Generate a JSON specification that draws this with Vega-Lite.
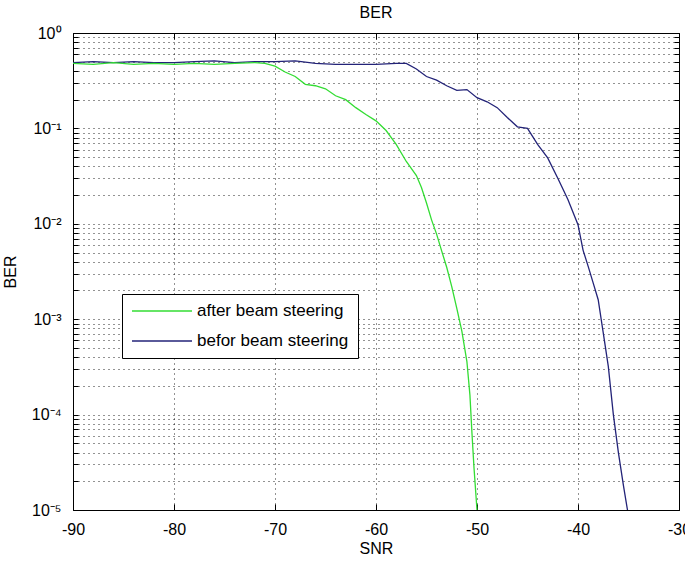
{
  "$schema": "https://vega.github.io/schema/vega-lite/v6.json",
  "width": 606,
  "height": 477,
  "autosize": {"type": "none"},
  "padding": {"left": 73, "top": 33, "right": 6, "bottom": 53},
  "background": "white",
  "config": {
    "font": "Liberation Sans",
    "view": {"stroke": "black", "strokeWidth": 1},
    "axis": {"labelFont": "Liberation Sans", "titleFont": "Liberation Sans", "labelColor": "black", "titleColor": "black", "titleFontWeight": "normal", "labelFontSize": 16, "titleFontSize": 16}
  },
  "title": {"text": "BER", "fontSize": 16, "fontWeight": "normal", "font": "Liberation Sans", "color": "black", "offset": 4},
  "data": {"values": [
    {"snr": -90, "ber": 0.49, "series": "befor beam steering"},
    {"snr": -88, "ber": 0.50, "series": "befor beam steering"},
    {"snr": -86, "ber": 0.49, "series": "befor beam steering"},
    {"snr": -84, "ber": 0.50, "series": "befor beam steering"},
    {"snr": -82, "ber": 0.49, "series": "befor beam steering"},
    {"snr": -80, "ber": 0.49, "series": "befor beam steering"},
    {"snr": -78, "ber": 0.50, "series": "befor beam steering"},
    {"snr": -76, "ber": 0.51, "series": "befor beam steering"},
    {"snr": -74, "ber": 0.49, "series": "befor beam steering"},
    {"snr": -72, "ber": 0.50, "series": "befor beam steering"},
    {"snr": -70, "ber": 0.50, "series": "befor beam steering"},
    {"snr": -68, "ber": 0.51, "series": "befor beam steering"},
    {"snr": -66, "ber": 0.48, "series": "befor beam steering"},
    {"snr": -64, "ber": 0.47, "series": "befor beam steering"},
    {"snr": -62, "ber": 0.47, "series": "befor beam steering"},
    {"snr": -60, "ber": 0.47, "series": "befor beam steering"},
    {"snr": -58, "ber": 0.48, "series": "befor beam steering"},
    {"snr": -57, "ber": 0.48, "series": "befor beam steering"},
    {"snr": -56, "ber": 0.42, "series": "befor beam steering"},
    {"snr": -55, "ber": 0.35, "series": "befor beam steering"},
    {"snr": -54, "ber": 0.32, "series": "befor beam steering"},
    {"snr": -53, "ber": 0.28, "series": "befor beam steering"},
    {"snr": -52, "ber": 0.25, "series": "befor beam steering"},
    {"snr": -51, "ber": 0.255, "series": "befor beam steering"},
    {"snr": -50, "ber": 0.21, "series": "befor beam steering"},
    {"snr": -49, "ber": 0.19, "series": "befor beam steering"},
    {"snr": -48, "ber": 0.165, "series": "befor beam steering"},
    {"snr": -47, "ber": 0.13, "series": "befor beam steering"},
    {"snr": -46, "ber": 0.104, "series": "befor beam steering"},
    {"snr": -45, "ber": 0.10, "series": "befor beam steering"},
    {"snr": -44, "ber": 0.068, "series": "befor beam steering"},
    {"snr": -43, "ber": 0.049, "series": "befor beam steering"},
    {"snr": -42, "ber": 0.030, "series": "befor beam steering"},
    {"snr": -41, "ber": 0.018, "series": "befor beam steering"},
    {"snr": -40, "ber": 0.0098, "series": "befor beam steering"},
    {"snr": -39.5, "ber": 0.0053, "series": "befor beam steering"},
    {"snr": -39, "ber": 0.0036, "series": "befor beam steering"},
    {"snr": -38.5, "ber": 0.0024, "series": "befor beam steering"},
    {"snr": -38, "ber": 0.0016, "series": "befor beam steering"},
    {"snr": -37.5, "ber": 0.00072, "series": "befor beam steering"},
    {"snr": -37, "ber": 0.00032, "series": "befor beam steering"},
    {"snr": -36.5, "ber": 0.0001, "series": "befor beam steering"},
    {"snr": -36, "ber": 0.00004, "series": "befor beam steering"},
    {"snr": -35.5, "ber": 0.000018, "series": "befor beam steering"},
    {"snr": -35.1, "ber": 0.00001, "series": "befor beam steering"},
    {"snr": -90, "ber": 0.48, "series": "after beam steering"},
    {"snr": -88, "ber": 0.47, "series": "after beam steering"},
    {"snr": -86, "ber": 0.49, "series": "after beam steering"},
    {"snr": -84, "ber": 0.47, "series": "after beam steering"},
    {"snr": -82, "ber": 0.48, "series": "after beam steering"},
    {"snr": -80, "ber": 0.47, "series": "after beam steering"},
    {"snr": -78, "ber": 0.48, "series": "after beam steering"},
    {"snr": -76, "ber": 0.47, "series": "after beam steering"},
    {"snr": -74, "ber": 0.48, "series": "after beam steering"},
    {"snr": -72, "ber": 0.49, "series": "after beam steering"},
    {"snr": -71, "ber": 0.48, "series": "after beam steering"},
    {"snr": -70, "ber": 0.45, "series": "after beam steering"},
    {"snr": -69, "ber": 0.39, "series": "after beam steering"},
    {"snr": -68, "ber": 0.35, "series": "after beam steering"},
    {"snr": -67, "ber": 0.29, "series": "after beam steering"},
    {"snr": -66, "ber": 0.28, "series": "after beam steering"},
    {"snr": -65, "ber": 0.26, "series": "after beam steering"},
    {"snr": -64, "ber": 0.22, "series": "after beam steering"},
    {"snr": -63, "ber": 0.20, "series": "after beam steering"},
    {"snr": -62, "ber": 0.165, "series": "after beam steering"},
    {"snr": -61, "ber": 0.14, "series": "after beam steering"},
    {"snr": -60, "ber": 0.12, "series": "after beam steering"},
    {"snr": -59, "ber": 0.095, "series": "after beam steering"},
    {"snr": -58, "ber": 0.068, "series": "after beam steering"},
    {"snr": -57, "ber": 0.045, "series": "after beam steering"},
    {"snr": -56, "ber": 0.032, "series": "after beam steering"},
    {"snr": -55.5, "ber": 0.024, "series": "after beam steering"},
    {"snr": -55, "ber": 0.0165, "series": "after beam steering"},
    {"snr": -54.5, "ber": 0.011, "series": "after beam steering"},
    {"snr": -54, "ber": 0.0078, "series": "after beam steering"},
    {"snr": -53.5, "ber": 0.0052, "series": "after beam steering"},
    {"snr": -53, "ber": 0.0035, "series": "after beam steering"},
    {"snr": -52.5, "ber": 0.0022, "series": "after beam steering"},
    {"snr": -52, "ber": 0.0013, "series": "after beam steering"},
    {"snr": -51.5, "ber": 0.00075, "series": "after beam steering"},
    {"snr": -51, "ber": 0.00036, "series": "after beam steering"},
    {"snr": -50.7, "ber": 0.00016, "series": "after beam steering"},
    {"snr": -50.5, "ber": 0.000064, "series": "after beam steering"},
    {"snr": -50.3, "ber": 0.000028, "series": "after beam steering"},
    {"snr": -50, "ber": 0.00001, "series": "after beam steering"}
  ]},
  "layer": [
    {
      "mark": {"type": "line", "strokeWidth": 1.3, "clip": true},
      "encoding": {
        "x": {
          "field": "snr", "type": "quantitative",
          "scale": {"domain": [-90, -30], "nice": false, "zero": false},
          "axis": {
            "orient": "bottom", "title": "SNR", "values": [-90, -80, -70, -60, -50, -40, -30],
            "labelExpr": "'' + datum.value",
            "domain": false, "grid": true, "gridColor": "black", "gridDash": [1, 4], "gridOpacity": 0.85,
            "tickSize": -6, "tickColor": "black", "labelPadding": 17, "labelFlush": false,
            "titlePadding": 3
          }
        },
        "y": {
          "field": "ber", "type": "quantitative",
          "scale": {"type": "log", "domain": [0.00001, 1], "nice": false},
          "axis": {
            "orient": "left", "title": "BER",
            "values": [0.00001, 0.00002, 0.00003, 0.00004, 0.00005, 0.00006, 0.00007, 0.00008, 0.00009,
                       0.0001, 0.0002, 0.0003, 0.0004, 0.0005, 0.0006, 0.0007, 0.0008, 0.0009,
                       0.001, 0.002, 0.003, 0.004, 0.005, 0.006, 0.007, 0.008, 0.009,
                       0.01, 0.02, 0.03, 0.04, 0.05, 0.06, 0.07, 0.08, 0.09,
                       0.1, 0.2, 0.3, 0.4, 0.5, 0.6, 0.7, 0.8, 0.9, 1],
            "labelExpr": "abs(log(datum.value)/LN10 - round(log(datum.value)/LN10)) < 0.000001 ? (round(log(datum.value)/LN10) == 0 ? '10⁰' : round(log(datum.value)/LN10) == -1 ? '10⁻¹' : round(log(datum.value)/LN10) == -2 ? '10⁻²' : round(log(datum.value)/LN10) == -3 ? '10⁻³' : round(log(datum.value)/LN10) == -4 ? '10⁻⁴' : '10⁻⁵') : ''",
            "domain": false, "grid": true, "gridColor": "black", "gridDash": [1, 4], "gridOpacity": 0.85,
            "tickSize": -5, "tickColor": "black", "labelPadding": 17, "labelFlush": false,
            "titlePadding": 13
          }
        },
        "color": {
          "field": "series", "type": "nominal",
          "scale": {"domain": ["after beam steering", "befor beam steering"], "range": ["#33dd33", "#232378"]},
          "legend": {
            "orient": "none", "legendX": 49, "legendY": 261, "title": null,
            "symbolType": "stroke", "symbolSize": 3600, "symbolStrokeWidth": 1.5, "clipHeight": 16,
            "labelFontSize": 17, "labelFont": "Liberation Sans", "labelColor": "black", "labelOffset": 4,
            "strokeColor": "black", "fillColor": "white", "padding": 9, "rowPadding": 13
          }
        }
      }
    },
    {
      "mark": {"type": "line", "opacity": 0},
      "encoding": {
        "x": {
          "field": "snr", "type": "quantitative",
          "axis": {"orient": "top", "title": null, "values": [-90, -80, -70, -60, -50, -40, -30], "labels": false, "domain": false, "grid": false, "tickSize": -6, "tickColor": "black"}
        },
        "y": {
          "field": "ber", "type": "quantitative",
          "axis": {"orient": "right", "title": null,
            "values": [0.00001, 0.00002, 0.00003, 0.00004, 0.00005, 0.00006, 0.00007, 0.00008, 0.00009,
                       0.0001, 0.0002, 0.0003, 0.0004, 0.0005, 0.0006, 0.0007, 0.0008, 0.0009,
                       0.001, 0.002, 0.003, 0.004, 0.005, 0.006, 0.007, 0.008, 0.009,
                       0.01, 0.02, 0.03, 0.04, 0.05, 0.06, 0.07, 0.08, 0.09,
                       0.1, 0.2, 0.3, 0.4, 0.5, 0.6, 0.7, 0.8, 0.9, 1],
            "labels": false, "domain": false, "grid": false, "tickSize": -5, "tickColor": "black"}
        },
        "detail": {"field": "series", "type": "nominal"}
      }
    }
  ],
  "resolve": {"axis": {"x": "independent", "y": "independent"}}
}
